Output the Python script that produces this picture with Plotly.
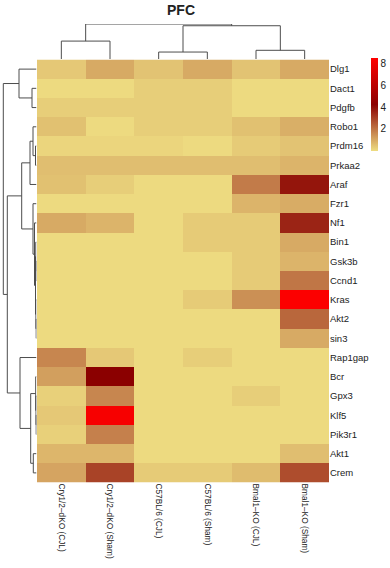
import plotly.graph_objects as go

# ---------------- data ----------------
col_labels = ["Cry1/2–dKO (CJL)", "Cry1/2–dKO (Sham)", "C57BL/6 (CJL)",
              "C57BL/6 (Sham)", "Bmal1–KO (CJL)", "Bmal1–KO (Sham)"]
row_labels = ["Dlg1", "Dact1", "Pdgfb", "Robo1", "Prdm16", "Prkaa2", "Araf", "Fzr1",
              "Nf1", "Bin1", "Gsk3b", "Ccnd1", "Kras", "Akt2", "sin3", "Rap1gap",
              "Bcr", "Gpx3", "Klf5", "Pik3r1", "Akt1", "Crem"]

values = [
    [0.40, 1.00, 0.50, 1.00, 0.50, 1.00],   # Dlg1
    [0.05, 0.05, 0.30, 0.30, 0.05, 0.05],   # Dact1
    [0.30, 0.30, 0.30, 0.30, 0.05, 0.05],   # Pdgfb
    [0.55, 0.05, 0.30, 0.30, 0.55, 0.90],   # Robo1
    [0.15, 0.15, 0.15, 0.05, 0.35, 0.50],   # Prdm16
    [0.60, 0.60, 0.60, 0.60, 0.60, 0.80],   # Prkaa2
    [0.55, 0.30, 0.05, 0.05, 1.90, 3.90],   # Araf
    [0.05, 0.05, 0.05, 0.05, 0.80, 0.95],   # Fzr1
    [1.00, 0.80, 0.05, 0.35, 0.35, 3.60],   # Nf1
    [0.05, 0.05, 0.05, 0.35, 0.35, 1.00],   # Bin1
    [0.05, 0.05, 0.05, 0.05, 0.35, 0.80],   # Gsk3b
    [0.05, 0.05, 0.05, 0.05, 0.35, 2.00],   # Ccnd1
    [0.05, 0.05, 0.05, 0.35, 1.50, 8.50],   # Kras
    [0.05, 0.05, 0.05, 0.05, 0.05, 2.30],   # Akt2
    [0.05, 0.05, 0.05, 0.05, 0.05, 1.00],   # sin3
    [1.70, 0.40, 0.05, 0.30, 0.05, 0.05],   # Rap1gap
    [1.20, 4.30, 0.05, 0.05, 0.05, 0.05],   # Bcr
    [0.25, 1.70, 0.05, 0.05, 0.30, 0.05],   # Gpx3
    [0.40, 8.30, 0.05, 0.05, 0.05, 0.05],   # Klf5
    [0.25, 1.80, 0.05, 0.05, 0.05, 0.05],   # Pik3r1
    [0.75, 0.75, 0.05, 0.05, 0.05, 0.60],   # Akt1
    [1.10, 3.00, 0.35, 0.35, 0.65, 2.80],   # Crem
]

colorbar_ticks = [2, 4, 6, 8]

# column dendrogram merges: (child_a, child_b, height); leaves 0..5, new ids from 6
col_merges = [(0, 1, 17.5), (2, 3, 6.8), (4, 5, 8.5), (7, 8, 32.5), (6, 9, 34.2)]

# row dendrogram merges: leaves 0..21, new ids from 22
row_merges = [
    (1, 2, 4.5),      # 22
    (0, 22, 17.5),    # 23
    (4, 5, 1.0),      # 24
    (3, 24, 3.5),     # 25
    (25, 6, 6.5),     # 26
    (10, 11, 0.4),    # 27
    (9, 27, 0.7),     # 28
    (13, 14, 0.3),    # 29
    (12, 29, 0.6),    # 30
    (28, 30, 1.0),    # 31
    (8, 31, 2.0),     # 32
    (7, 32, 3.5),     # 33
    (26, 33, 14.8),   # 34
    (18, 19, 0.3),    # 35
    (17, 35, 0.5),    # 36
    (16, 36, 0.8),    # 37
    (20, 21, 3.2),    # 38
    (37, 38, 5.8),    # 39
    (15, 39, 16.5),   # 40
    (34, 40, 29.2),   # 41
    (23, 41, 33.2),   # 42
]

# ---------------- layout geometry ----------------
W, H = 390, 568
hx0, hx1 = 37, 329           # heatmap left/right px
hy0, hy1 = 59.5, 482.5       # heatmap top/bottom px


def px_x(p):
    return p / W


def px_y(p):
    return 1 - p / H


def dendro_segments(n_leaves, merges):
    pos = {i: float(i) for i in range(n_leaves)}
    hgt = {i: 0.0 for i in range(n_leaves)}
    segs = []
    for k, (a, b, h) in enumerate(merges):
        nid = n_leaves + k
        segs.append(((pos[a], hgt[a]), (pos[a], h)))
        segs.append(((pos[b], hgt[b]), (pos[b], h)))
        segs.append(((pos[a], h), (pos[b], h)))
        pos[nid] = (pos[a] + pos[b]) / 2
        hgt[nid] = h
    return segs


line_col = "#4d4d4d"
fig = go.Figure()

fig.add_trace(go.Heatmap(
    z=values, x=col_labels, y=row_labels,
    zmin=0, zmax=8.6,
    colorscale=[[0, "#EEDD82"], [0.5, "#8B0000"], [1, "#FF0000"]],
    xgap=0, ygap=0,
    colorbar=dict(
        x=px_x(371), xanchor="left", y=px_y(104), yanchor="middle",
        len=93 / H, lenmode="fraction", thickness=7, thicknessmode="pixels",
        outlinewidth=0, tickvals=colorbar_ticks, ticks="",
        tickfont=dict(size=10, color="#222", family="Liberation Sans"),
        xpad=0, ypad=0,
    ),
    xaxis="x", yaxis="y", hoverinfo="skip",
))

# top (column) dendrogram
xs, ys = [], []
for (p0, h0), (p1, h1) in dendro_segments(len(col_labels), col_merges):
    xs += [p0, p1, None]
    ys += [h0, h1, None]
fig.add_trace(go.Scatter(x=xs, y=ys, mode="lines", line=dict(color=line_col, width=1),
                         xaxis="x2", yaxis="y2", hoverinfo="skip", showlegend=False))

# left (row) dendrogram
xs, ys = [], []
for (p0, h0), (p1, h1) in dendro_segments(len(row_labels), row_merges):
    xs += [h0, h1, None]
    ys += [p0, p1, None]
fig.add_trace(go.Scatter(x=xs, y=ys, mode="lines", line=dict(color=line_col, width=1),
                         xaxis="x3", yaxis="y3", hoverinfo="skip", showlegend=False))

hidden = dict(visible=False, showgrid=False, zeroline=False, fixedrange=True)

fig.update_layout(
    width=W, height=H,
    margin=dict(l=0, r=0, t=0, b=0, autoexpand=False),
    paper_bgcolor="white", plot_bgcolor="white",
    showlegend=False,
    font=dict(family="Liberation Sans", color="#222"),
    title=dict(text="<b>PFC</b>", x=px_x(181), xanchor="center",
               y=px_y(10), yanchor="middle", automargin=False,
               font=dict(size=14, color="#222", family="Liberation Sans")),
    xaxis=dict(domain=[px_x(hx0), px_x(hx1)], showgrid=False, zeroline=False,
               ticks="", tickangle=90, tickfont=dict(size=8.3, color="#222"),
               automargin=False, fixedrange=True),
    yaxis=dict(domain=[px_y(hy1), px_y(hy0)], side="right", autorange="reversed",
               showgrid=False, zeroline=False, ticks="", automargin=False,
               tickfont=dict(size=9.5, color="#222"), fixedrange=True),
    xaxis2=dict(domain=[px_x(hx0), px_x(hx1)], range=[-0.5, 5.5], anchor="y2", **hidden),
    yaxis2=dict(domain=[px_y(hy0 - 0.5), px_y(24)], range=[0, 34.2], anchor="x2", **hidden),
    xaxis3=dict(domain=[0, px_x(hx0 - 0.5)], range=[36.5, 0], anchor="y3", **hidden),
    yaxis3=dict(domain=[px_y(hy1), px_y(hy0)], range=[21.5, -0.5], anchor="x3", **hidden),
)

fig.write_html(
    "out.html",
    config={"displayModeBar": False},
    post_script="document.body.style.margin='0';document.body.style.padding='0';",
)
